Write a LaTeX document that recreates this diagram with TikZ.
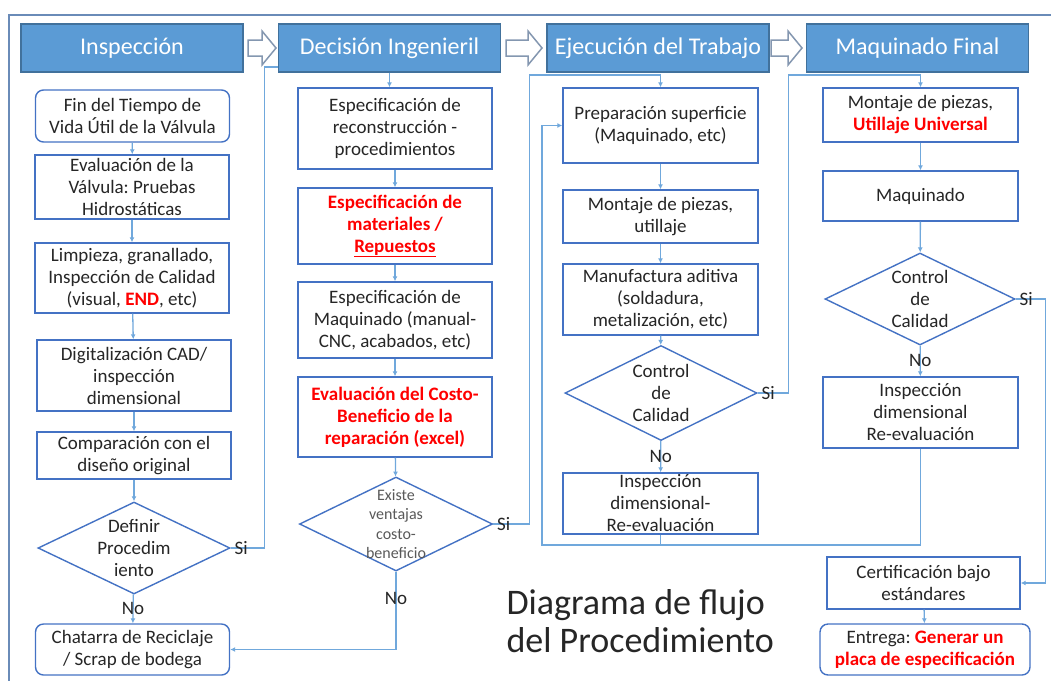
\documentclass[tikz,border=0pt]{standalone}
\usepackage{fontspec}
\setmainfont{Carlito}
\usetikzlibrary{shapes.geometric,arrows.meta}
\frenchspacing

\definecolor{boxblue}{HTML}{4472C4}
\definecolor{linkblue}{HTML}{70A8DC}
\definecolor{headblue}{HTML}{5B9BD5}
\definecolor{headedge}{HTML}{41719C}
\definecolor{arrgray}{HTML}{8497B0}
\definecolor{framegray}{HTML}{6A8BB8}
\definecolor{txtgray}{HTML}{262626}
\definecolor{smallgray}{HTML}{595959}
\newcommand{\redb}[1]{\textcolor{red}{\textbf{#1}}}

\begin{document}
\begin{tikzpicture}[x=1pt, y=-1pt, >={Latex[length=5pt,width=5pt]},
    every node/.append style={text=txtgray},
    all/.style={draw=boxblue, fill=white, line width=1.4pt, inner sep=0pt, align=center,
        minimum width=194pt, font=\fontsize{19}{22}\selectfont},
    rnd/.style={all, rounded corners=8pt},
    hot/.style={text=red, font=\fontsize{19}{22}\selectfont\bfseries},
    dec/.style={diamond, draw=boxblue, fill=white, line width=1.4pt, inner sep=0pt,
        minimum width=192pt, minimum height=92pt},
    head/.style={draw=headedge, fill=headblue, line width=1.4pt, minimum width=222pt,
        minimum height=48pt, text=white, font=\fontsize{24}{28}\selectfont},
    harr/.style={draw=arrgray, fill=white, line width=1.5pt},
    lbl/.style={align=center, font=\fontsize{19}{22}\selectfont},
    small/.style={align=center, text=smallgray, font=\fontsize{16}{19.5}\selectfont},
    title/.style={align=left, font=\fontsize{36}{38}\selectfont}]

    \useasboundingbox (0,0) rectangle (1051,681);
    \draw[framegray, line width=2pt] (1051,15) -- (9,15) -- (9,681);

    % headers
    \node[head] (h1) at (132,48) {Inspección};
    \node[head] (h2) at (389.5,48) {Decisión Ingenieril};
    \node[head] (h3) at (658,48) {Ejecución del Trabajo};
    \node[head] (h4) at (917.5,48) {Maquinado Final};
    \foreach \x/\l in {248/28, 506/36, 771/31}
        \draw[harr] (\x,40) -- ({\x+\l-14},40) -- ({\x+\l-14},31) -- ({\x+\l},48)
            -- ({\x+\l-14},65) -- ({\x+\l-14},56) -- (\x,56) -- cycle;

    % Inspeccion
    \node[rnd, minimum height=52pt] (a1) at (132.5,116) {Fin del Tiempo de\\Vida Útil de la Válvula};
    \node[all, minimum height=64pt] (a2) at (132,187) {Evaluación de la\\Válvula: Pruebas\\Hidrostáticas};
    \node[all, minimum height=70pt] (a3) at (132,278) {Limpieza, granallado,\\Inspección de Calidad\\(visual, \redb{END}, etc)};
    \node[all, minimum height=71pt] (a4) at (134,375.5) {Digitalización CAD/\\inspección\\dimensional};
    \node[all, minimum height=47pt] (a5) at (134,455.5) {Comparación con el\\diseño original};
    \node[dec, label={[lbl]center:Definir\\Procedim\\iento}] (a6) at (134,548) {};
    \node[rnd, minimum height=51pt] (a7) at (132.5,649.5) {Chatarra de Reciclaje\\/ Scrap de bodega};

    % Decision
    \node[all, minimum height=81pt] (b1) at (395,128.5) {Especificación de\\reconstrucción -\\procedimientos};
    \node[all, hot, minimum height=76pt] (b2) at (395,226) {Especificación de\\materiales /\\\underline{Repuestos}};
    \node[all, minimum height=76pt] (b3) at (395,320) {Especificación de\\Maquinado (manual-\\CNC, acabados, etc)};
    \node[all, hot, minimum height=80pt] (b4) at (395,417) {Evaluación del Costo-\\Beneficio de la\\reparación (excel)};
    \node[dec, minimum width=193pt, minimum height=94pt,
        label={[small]center:Existe\\ventajas\\costo-\\beneficio}] (b5) at (396,524) {};

    % Ejecucion
    \node[all, minimum width=195pt, minimum height=75pt] (c1) at (660.5,125.5) {Preparación superficie\\(Maquinado, etc)};
    \node[all, minimum width=195pt, minimum height=53pt] (c2) at (660.5,216.5) {Montaje de piezas,\\utillaje};
    \node[all, minimum width=195pt, minimum height=71pt] (c3) at (660.5,299.5) {Manufactura aditiva\\(soldadura,\\metalización, etc)};
    \node[dec, minimum height=95pt, label={[lbl]center:Control\\de\\Calidad}] (c4) at (661,393) {};
    \node[all, minimum width=195pt, minimum height=61pt,
        label={[lbl]center:Inspección\\dimensional-\\Re-evaluación}] (c5) at (660.5,503.5) {};

    % Maquinado
    \node[all, minimum width=195pt, minimum height=54pt] (d1) at (920.5,115) {Montaje de piezas,\\\redb{Utillaje Universal}};
    \node[all, minimum width=195pt, minimum height=50pt] (d2) at (920.5,196) {Maquinado};
    \node[dec, minimum width=190pt, label={[lbl]center:Control\\de\\Calidad}] (d3) at (920,299) {};
    \node[all, minimum width=195pt, minimum height=71pt] (d4) at (920.5,412.5) {Inspección\\dimensional\\Re-evaluación};
    \node[all, minimum width=193pt, minimum height=52pt] (d5) at (923.5,583) {Certificación bajo\\estándares};
    \node[rnd, minimum width=210pt, minimum height=51pt] (d6) at (925,649.5) {Entrega: \redb{Generar un}\\\redb{placa de especificación}};

    \node[title, anchor=west] (t0) at (503,621) {Diagrama de flujo\\del Procedimiento};

    \coordinate (c0) at (660.5,75);
    \coordinate (d0) at (920.5,75);
    \coordinate (lp) at (542,545);

    \begin{scope}[color=linkblue, line width=1.3pt]
        \path[->] (a1) edge (a2) (a2) edge (a3) (a3) edge (a4) (a4) edge (a5) (a5) edge (a6);
        \path[->] (a6) edge node[lbl] {No} (a7);
        \draw (a6.east) node[lbl, anchor=west] {Si} -- ++(34,0) |- ([yshift=-19pt]h2.west);

        \path[->] (h2.south) edge (h2.south |- b1.north);
        \path[->] (b1) edge (b2) (b2) edge (b3) (b3) edge (b4) (b4) edge (b5);
        \draw[->] (b5.south) |- node[lbl, pos=0.17] {No} (a7.east);
        \draw[->] (b5.east) node[lbl, anchor=west] {Si} -- ++(36,0) |- (c0) -- (c1.north);

        \path[->] (c1) edge (c2) (c2) edge (c3) (c3) edge (c4);
        \path[->] (c4) edge node[lbl] {No} (c5);
        \draw[->] (c4.east) node[lbl, anchor=west] {Si} -- ++(31,0) |- (d0) -- (d1.north);

        \path[->] (d1) edge (d2) (d2) edge (d3);
        \path[->] (d3) edge node[lbl] {No} (d4);
        \draw[->] (d3.east) node[lbl, anchor=west] {Si} -- ++(30,0) |- (d5.east);
        \path[->] (d5) edge (d6);

        \draw[->] (d4.south) |- (lp) |- (c1.west);
        \draw (c5.south) -- (c5.south |- lp);
    \end{scope}
\end{tikzpicture}
\end{document}
